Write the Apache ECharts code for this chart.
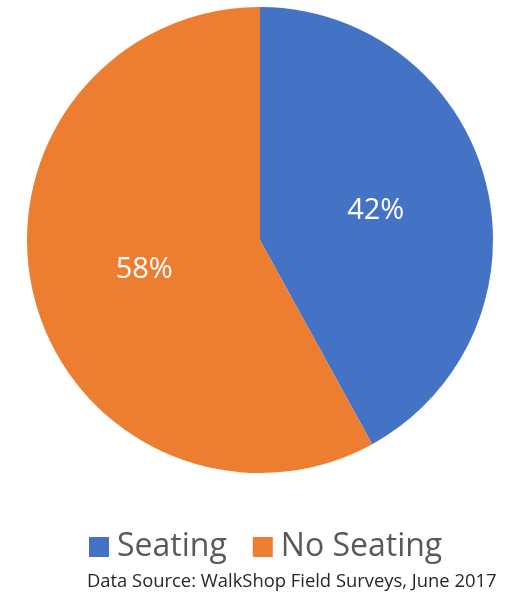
<!DOCTYPE html>
<html>
<head>
<meta charset="utf-8">
<style>
  html, body { margin: 0; padding: 0; background: #ffffff; }
  #chart { width: 508px; height: 595px; }
</style>
<script src="https://cdn.jsdelivr.net/npm/echarts@6/dist/echarts.min.js"></script>
</head>
<body>
<div id="chart"></div>
<script>
// Share of surveyed locations with and without seating
const categories = ['Seating', 'No Seating'];
const shares = [42, 58];
const colors = ['#4472C4', '#ED7D31'];
const sourceNote = 'Data Source: WalkShop Field Surveys, June 2017';

const font = '"Open Sans", "Noto Sans", sans-serif';

const chart = echarts.init(document.getElementById('chart'), null, { renderer: 'canvas' });
chart.setOption({
  animation: false,
  color: colors,
  title: {
    text: sourceNote,
    left: 87,
    top: 573,
    padding: 0,
    textStyle: { fontFamily: font, fontSize: 18.4, fontWeight: 'normal', color: '#262626' }
  },
  legend: {
    data: categories,
    left: 84,
    top: 526,
    icon: 'rect',
    itemWidth: 20,
    itemHeight: 20,
    itemGap: 26,
    textStyle: { fontFamily: font, fontSize: 32, color: '#595959', padding: [0, 0, 0, 3] },
    selectedMode: false
  },
  series: [{
    type: 'pie',
    center: [260, 240],
    radius: [0, 233],
    startAngle: 90,
    clockwise: true,
    label: {
      show: true,
      position: 'inside',
      formatter: '{d}%',
      color: '#ffffff',
      fontFamily: font,
      fontSize: 29
    },
    labelLine: { show: false },
    itemStyle: { borderWidth: 0 },
    emphasis: { disabled: true },
    data: categories.map((name, i) => ({ name, value: shares[i] }))
  }]
});
</script>
</body>
</html>
